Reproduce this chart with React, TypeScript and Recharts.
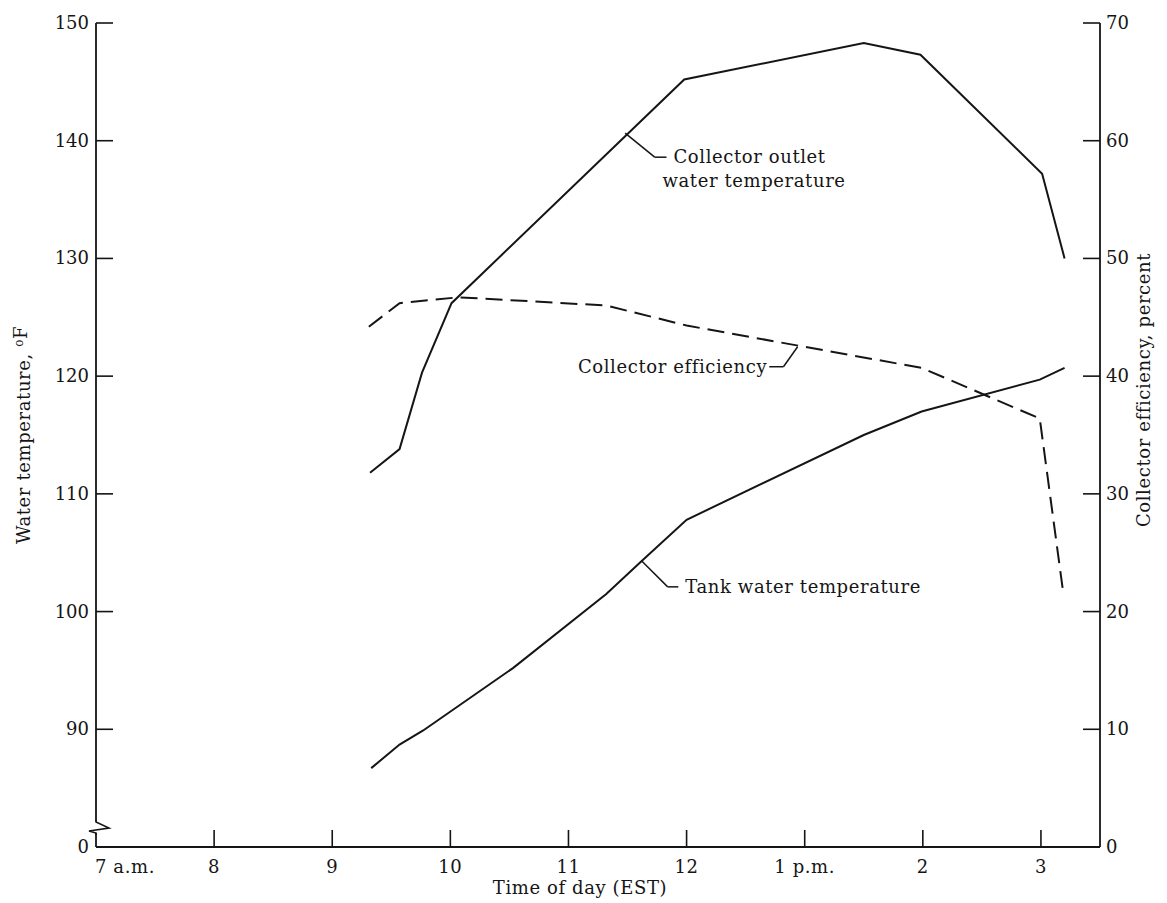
import { LineChart, Line, XAxis, YAxis, ReferenceLine, ReferenceDot, Label } from "recharts";

// time of day in decimal hours (13 = 1 p.m.)
const hourTicks = [7, 8, 9, 10, 11, 12, 13, 14, 15];
const hourLabels = ["7 a.m.", "8", "9", "10", "11", "12", "1 p.m.", "2", "3"];

// left axis has a break: the lowest tick is drawn as "0"
const tempTicks = [80, 90, 100, 110, 120, 130, 140, 150];
const tempLabels = ["0", "90", "100", "110", "120", "130", "140", "150"];
const effTicks = [0, 10, 20, 30, 40, 50, 60, 70];

const outletHours = [9.32, 9.57, 9.76, 10.01, 11.98, 13.5, 13.98, 15.01, 15.2];
const outletTemps = [111.8, 113.8, 120.3, 126.2, 145.2, 148.3, 147.3, 137.2, 130.0];

const tankHours = [9.33, 9.57, 9.77, 10.53, 11.32, 11.62, 12.0, 13.5, 13.99, 14.99, 15.2];
const tankTemps = [86.7, 88.7, 89.9, 95.2, 101.5, 104.3, 107.8, 115.0, 117.0, 119.7, 120.7];

const effHours = [9.31, 9.57, 10.07, 11.32, 12.0, 13.99, 14.99, 15.19];
const effValues = [44.2, 46.2, 46.7, 46.0, 44.3, 40.7, 36.4, 21.5];

const zip = (hs: number[], vs: number[]) => hs.map((h, i) => ({ h, v: vs[i] }));
const outletData = zip(outletHours, outletTemps);
const tankData = zip(tankHours, tankTemps);
const effData = zip(effHours, effValues);

const font = "'DejaVu Serif', 'Liberation Serif', serif";
const ink = "#151515";
const fs = 18;
const ls = 0.6;

const LeftTick = (props: any) => {
  const { x, y, payload } = props;
  const i = tempTicks.indexOf(payload.value);
  const isBreak = payload.value === 80;
  return (
    <g>
      {!isBreak && <line x1={x} y1={y} x2={x + 17} y2={y} stroke={ink} strokeWidth={1.6} />}
      <text x={x - 7} y={y + 6} textAnchor="end" fontFamily={font} fontSize={fs} fill={ink}>
        {tempLabels[i]}
      </text>
      {isBreak && (
        <g>
          <rect x={x - 3} y={y - 26} width={6} height={12} fill="#fff" />
          <polyline
            points={`${x},${y - 27} ${x},${y - 25} ${x + 13},${y - 19} ${x - 7},${y - 16} ${x},${y - 14} ${x},${y - 12}`}
            fill="none"
            stroke={ink}
            strokeWidth={1.6}
          />
        </g>
      )}
    </g>
  );
};

const RightTick = (props: any) => {
  const { x, y, payload } = props;
  return (
    <g>
      {payload.value !== 0 && <line x1={x} y1={y} x2={x - 17} y2={y} stroke={ink} strokeWidth={1.6} />}
      <text x={x + 6} y={y + 6} textAnchor="start" fontFamily={font} fontSize={fs} fill={ink}>
        {payload.value}
      </text>
    </g>
  );
};

const BottomTick = (props: any) => {
  const { x, y, payload } = props;
  const i = hourTicks.indexOf(payload.value);
  const first = i === 0;
  return (
    <g>
      {!first && <line x1={x} y1={y} x2={x} y2={y - 17} stroke={ink} strokeWidth={1.6} />}
      <text
        x={first ? x - 1 : x}
        y={y + 26}
        textAnchor={first ? "start" : "middle"}
        fontFamily={font}
        fontSize={fs}
        fill={ink}
        letterSpacing={ls}
      >
        {hourLabels[i]}
      </text>
    </g>
  );
};

const noteText = (lines: string[], anchor: "start" | "end", dx: number) => (p: any) => (
  <text x={p.cx + dx} y={p.cy + 6} textAnchor={anchor} fontFamily={font} fontSize={fs} fill={ink} letterSpacing={ls}>
    {lines.map((l, k) => (
      <tspan key={k} x={p.cx + dx - (k > 0 ? 11 : 0)} dy={k === 0 ? 0 : 24}>
        {l}
      </tspan>
    ))}
  </text>
);

const leader = { stroke: ink, strokeWidth: 1.5 };

export default function App() {
  return (
    <LineChart width={1159} height={895} margin={{ top: 15, right: 7, bottom: 6, left: 0 }}>
      <XAxis
        dataKey="h"
        type="number"
        domain={[7, 15.5]}
        ticks={hourTicks}
        allowDataOverflow
        axisLine={{ stroke: ink, strokeWidth: 2 }}
        tickLine={false}
        tickSize={0}
        tickMargin={0}
        tick={<BottomTick />}
        height={50}
        interval={0}
      >
        <Label
          content={(p: any) => (
            <text
              x={p.viewBox.x + p.viewBox.width / 2 - 18}
              y={p.viewBox.y + 47}
              textAnchor="middle"
              fontFamily={font}
              fontSize={fs}
              fill={ink}
              letterSpacing={ls}
            >
              Time of day (EST)
            </text>
          )}
        />
      </XAxis>
      <YAxis
        yAxisId="t"
        orientation="left"
        domain={[80, 150]}
        ticks={tempTicks}
        allowDataOverflow
        width={88}
        axisLine={{ stroke: ink, strokeWidth: 1.8 }}
        tickLine={false}
        tickSize={0}
        tickMargin={0}
        tick={<LeftTick />}
        interval={0}
      >
        <Label
          content={(p: any) => {
            const cx = 22;
            const cy = p.viewBox.y + p.viewBox.height / 2;
            return (
              <text
                transform={`translate(${cx},${cy}) rotate(-90)`}
                textAnchor="middle"
                fontFamily={font}
                fontSize={fs}
                fill={ink}
                letterSpacing={ls}
              >
                Water temperature,{" "}
                <tspan fontSize={12} dy={-7}>
                  o
                </tspan>
                <tspan dy={4}>F</tspan>
              </text>
            );
          }}
        />
      </YAxis>
      <YAxis
        yAxisId="e"
        orientation="right"
        domain={[0, 70]}
        ticks={effTicks}
        allowDataOverflow
        width={60}
        axisLine={{ stroke: ink, strokeWidth: 1.8 }}
        tickLine={false}
        tickSize={0}
        tickMargin={0}
        tick={<RightTick />}
        interval={0}
      >
        <Label
          content={(p: any) => {
            const cx = p.viewBox.x + 50;
            const cy = p.viewBox.y + p.viewBox.height / 2 - 45;
            return (
              <text
                transform={`translate(${cx},${cy}) rotate(-90)`}
                textAnchor="middle"
                fontFamily={font}
                fontSize={fs}
                fill={ink}
                letterSpacing={ls}
              >
                Collector efficiency, percent
              </text>
            );
          }}
        />
      </YAxis>

      <Line
        yAxisId="t"
        data={outletData}
        dataKey="v"
        type="linear"
        stroke={ink}
        strokeWidth={2}
        dot={false}
        isAnimationActive={false}
      />
      <Line
        yAxisId="t"
        data={tankData}
        dataKey="v"
        type="linear"
        stroke={ink}
        strokeWidth={2}
        dot={false}
        isAnimationActive={false}
      />
      <Line
        yAxisId="e"
        data={effData}
        dataKey="v"
        type="linear"
        stroke={ink}
        strokeWidth={2}
        strokeDasharray="17 8"
        dot={false}
        isAnimationActive={false}
      />

      {/* leader lines and notes */}
      <ReferenceLine
        yAxisId="t"
        segment={[{ x: 11.48, y: 140.65 }, { x: 11.73, y: 138.6 }]}
        {...leader}
      />
      <ReferenceLine
        yAxisId="t"
        segment={[{ x: 11.73, y: 138.6 }, { x: 11.83, y: 138.6 }]}
        {...leader}
      />
      <ReferenceDot
        yAxisId="t"
        x={11.83}
        y={138.6}
        r={0}
        shape={noteText(["Collector outlet", "water temperature"], "start", 7)}
      />

      <ReferenceLine
        yAxisId="e"
        segment={[{ x: 12.94, y: 42.5 }, { x: 12.82, y: 40.8 }]}
        {...leader}
      />
      <ReferenceLine
        yAxisId="e"
        segment={[{ x: 12.82, y: 40.8 }, { x: 12.7, y: 40.8 }]}
        {...leader}
      />
      <ReferenceDot
        yAxisId="e"
        x={12.7}
        y={40.8}
        r={0}
        shape={noteText(["Collector efficiency"], "end", -2)}
      />

      <ReferenceLine
        yAxisId="t"
        segment={[{ x: 11.62, y: 104.3 }, { x: 11.84, y: 102.1 }]}
        {...leader}
      />
      <ReferenceLine
        yAxisId="t"
        segment={[{ x: 11.84, y: 102.1 }, { x: 11.93, y: 102.1 }]}
        {...leader}
      />
      <ReferenceDot
        yAxisId="t"
        x={11.93}
        y={102.1}
        r={0}
        shape={noteText(["Tank water temperature"], "start", 7)}
      />
    </LineChart>
  );
}
